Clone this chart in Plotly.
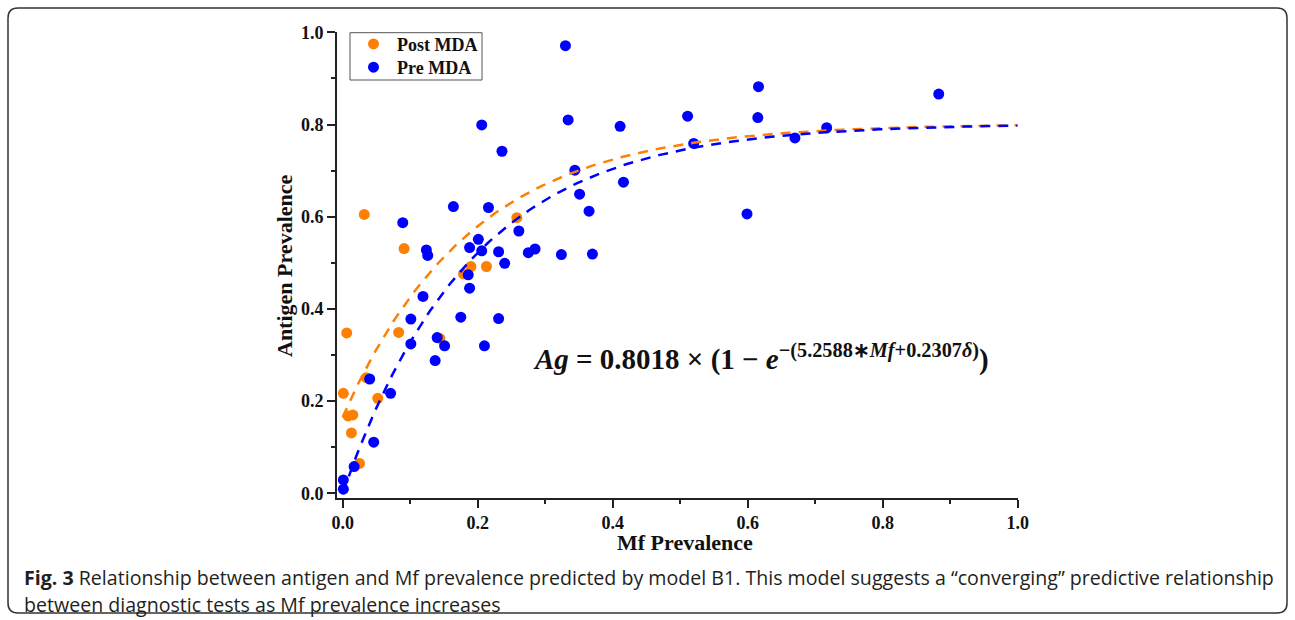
import numpy as np
import plotly.graph_objects as go

W, H = 1295, 620

# ---- data ----
pre_x = [0.206, 0.236, 0.164, 0.216, 0.089, 0.261, 0.124, 0.126, 0.201, 0.188,
         0.206, 0.231, 0.240, 0.275, 0.285, 0.324, 0.370, 0.186, 0.188, 0.119,
         0.101, 0.175, 0.231, 0.140, 0.101, 0.151, 0.210, 0.137, 0.040, 0.071,
         0.046, 0.017, 0.001, 0.001, 0.330, 0.334, 0.411, 0.511, 0.520, 0.344,
         0.416, 0.351, 0.365, 0.616, 0.615, 0.670, 0.717, 0.599, 0.883]
pre_y = [0.799, 0.742, 0.622, 0.620, 0.587, 0.569, 0.528, 0.516, 0.551, 0.533,
         0.526, 0.524, 0.499, 0.522, 0.530, 0.518, 0.519, 0.474, 0.445, 0.427,
         0.378, 0.382, 0.379, 0.338, 0.324, 0.320, 0.320, 0.288, 0.248, 0.217,
         0.111, 0.058, 0.029, 0.009, 0.971, 0.810, 0.796, 0.818, 0.759, 0.701,
         0.675, 0.649, 0.612, 0.882, 0.815, 0.771, 0.793, 0.606, 0.866]

post_x = [0.001, 0.006, 0.008, 0.015, 0.013, 0.025, 0.032, 0.035, 0.052, 0.083,
          0.091, 0.144, 0.179, 0.190, 0.213, 0.258]
post_y = [0.217, 0.348, 0.168, 0.170, 0.131, 0.065, 0.605, 0.251, 0.206, 0.349,
          0.531, 0.336, 0.476, 0.492, 0.492, 0.598]

# model B1 parameters shown on the chart
A_MAX = 0.8018
B_MF = 5.2588
C_DELTA = 0.2307
DELTA_PRE = 0
DELTA_POST = 1

x_ticks = [0.0, 0.2, 0.4, 0.6, 0.8, 1.0]
y_ticks = [0.0, 0.2, 0.4, 0.6, 0.8, 1.0]

ORANGE = "#FF8000"
BLUE = "#0000FF"

mf = np.linspace(0, 1, 201)
def model(m, delta):
    return A_MAX * (1 - np.exp(-(B_MF * m + C_DELTA * delta)))

fig = go.Figure()
fig.add_trace(go.Scatter(x=post_x, y=post_y, mode="markers", name="Post MDA", legend="legend",
                         marker=dict(color=ORANGE, size=11, line=dict(width=0))))
fig.add_trace(go.Scatter(x=pre_x, y=pre_y, mode="markers", name="Pre MDA", legend="legend2",
                         marker=dict(color=BLUE, size=11, line=dict(width=0))))
fig.add_trace(go.Scatter(x=mf, y=model(mf, DELTA_POST), mode="lines", showlegend=False,
                         line=dict(color=ORANGE, width=2.5, dash="10px,8px")))
fig.add_trace(go.Scatter(x=mf, y=model(mf, DELTA_PRE), mode="lines", showlegend=False,
                         line=dict(color=BLUE, width=2.5, dash="10px,8px")))

serif = "Liberation Serif"
axis_common = dict(showline=True, linecolor="#222", linewidth=2, ticks="outside",
                   ticklen=8, tickwidth=2, tickcolor="#222", showgrid=False,
                   zeroline=False, tickformat=".1f", automargin=False,
                   tickfont=dict(family=serif, size=18, color="#111", weight="bold"),
                   minor=dict(ticks="outside", ticklen=4, tickwidth=2, tickcolor="#222", dtick=0.1))

x_left, x_right = 337, 1017.7
y_bot, y_top = 497.5, 32.3

fig.update_xaxes(range=[-0.0084, 1.0], domain=[x_left / W, x_right / W],
                 tickvals=x_ticks, **axis_common)
fig.update_yaxes(range=[-0.009, 1.0], domain=[1 - y_bot / H, 1 - y_top / H],
                 tickvals=y_ticks, **axis_common)

caption1 = ("<b>Fig. 3</b> Relationship between antigen and Mf prevalence predicted by model B1. "
            "This model suggests a \u201cconverging\u201d predictive relationship")
caption2 = "between diagnostic tests as Mf prevalence increases"

annotations = [
    dict(text="<b>Mf Prevalence</b>", x=685 / W, y=1 - 542 / H, xref="paper", yref="paper",
         showarrow=False, font=dict(family=serif, size=22, color="#111"),
         xanchor="center", yanchor="middle"),
    dict(text="<b>Antigen Prevalence</b>", x=285 / W, y=1 - 266 / H, xref="paper", yref="paper",
         showarrow=False, textangle=-90, font=dict(family=serif, size=22, color="#111"),
         xanchor="center", yanchor="middle"),
    dict(text="<b><i>Ag</i> = 0.8018 \u00d7 (1 \u2212 <i>e</i><sup>\u2212(5.2588\u2217<i>Mf</i>+0.2307<i>\u03b4</i>)</sup>)</b>",
         x=531 / W, y=1 - 357 / H, xref="paper", yref="paper", showarrow=False,
         font=dict(family=serif, size=29, color="#111"), xanchor="left", yanchor="middle"),
    dict(text=caption1, x=22 / W, y=1 - 577 / H, xref="paper", yref="paper", showarrow=False,
         font=dict(family="Open Sans", size=19.6, color="#231f20"), xanchor="left", yanchor="middle"),
    dict(text=caption2, x=22 / W, y=1 - 604 / H, xref="paper", yref="paper", showarrow=False,
         font=dict(family="Open Sans", size=19.6, color="#231f20"), xanchor="left", yanchor="middle"),
]

# rounded frame around the whole figure
x0, x1, y0, y1 = 8 / W, 1287 / W, 1 - 613 / H, 1 - 8 / H
rx, ry = 10 / W, 10 / H
frame = (f"M {x0+rx},{y1} L {x1-rx},{y1} Q {x1},{y1} {x1},{y1-ry} "
         f"L {x1},{y0+ry} Q {x1},{y0} {x1-rx},{y0} L {x0+rx},{y0} "
         f"Q {x0},{y0} {x0},{y0+ry} L {x0},{y1-ry} Q {x0},{y1} {x0+rx},{y1} Z")

legend_font = dict(family=serif, size=18, color="#111", weight="bold")
legend_common = dict(xanchor="left", yanchor="top", borderwidth=0,
                     bgcolor="rgba(0,0,0,0)", font=legend_font, itemwidth=37)

fig.update_layout(
    width=W, height=H, margin=dict(l=0, r=0, t=0, b=0, autoexpand=False),
    paper_bgcolor="white", plot_bgcolor="white",
    showlegend=True,
    legend=dict(x=350 / W, y=1 - 25.7 / H, **legend_common),
    legend2=dict(x=350 / W, y=1 - 49.0 / H, **legend_common),
    annotations=annotations,
    shapes=[
        dict(type="path", path=frame, xref="paper", yref="paper",
             line=dict(color="#333", width=1.5), layer="above"),
        dict(type="rect", xref="paper", yref="paper", x0=350 / W, x1=482 / W,
             y0=1 - 80 / H, y1=1 - 32.7 / H, line=dict(color="#555", width=1),
             fillcolor="rgba(0,0,0,0)", layer="above"),
    ],
)

fig.write_html("out.html", config={"displayModeBar": False},
               post_script="document.body.style.margin='0';document.body.style.overflow='hidden';")
